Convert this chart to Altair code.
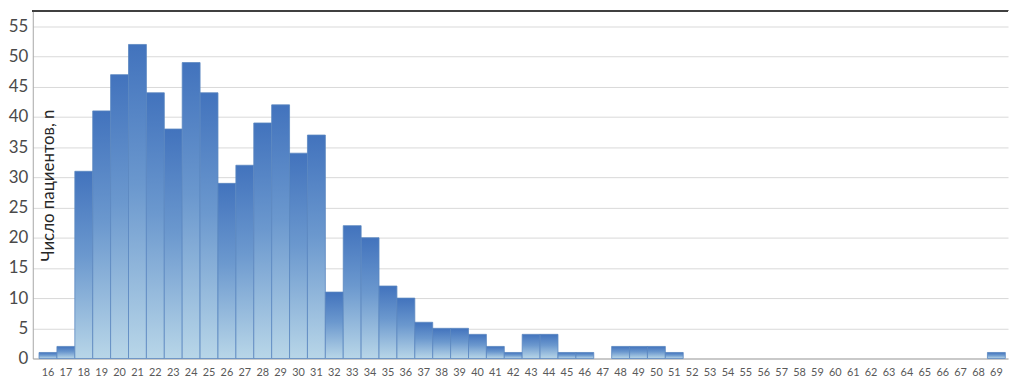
import altair as alt
import pandas as pd

ages = list(range(16, 70))
counts = [1, 2, 31, 41, 47, 52, 44, 38, 49, 44,
          29, 32, 39, 42, 34, 37, 11, 22, 20, 12,
          10, 6, 5, 5, 4, 2, 1, 4, 4, 1,
          1, 0, 2, 2, 2, 1,
          0, 0, 0, 0, 0, 0, 0, 0, 0, 0, 0, 0, 0, 0, 0, 0, 0,
          1]
y_ticks = [0, 5, 10, 15, 20, 25, 30, 35, 40, 45, 50, 55]
y_title = "Число пациентов, n"

df = pd.DataFrame({"age": ages, "n": counts})

W = 984
H = 351
FONT = "Lato"

grad = alt.Gradient(
    gradient="linear",
    stops=[
        alt.GradientStop(color="#4273bd", offset=0),
        alt.GradientStop(color="#6b98ce", offset=0.45),
        alt.GradientStop(color="#b8d6e8", offset=1),
    ],
    x1=0, x2=0, y1=0, y2=1,
)

x_enc = alt.X(
    "age:O",
    scale=alt.Scale(domain=ages, paddingInner=0, paddingOuter=0.25, align=0.7),
    axis=alt.Axis(
        title=None, labelAngle=0, labelFont=FONT, labelFontSize=11,
        labelColor="#595959", labelPadding=8, ticks=False,
        domainColor="#a6a6a6", labelOverlap=False,
    ),
)

bars = alt.Chart(df).transform_filter("datum.n > 0").mark_bar(
    color=grad, stroke="#5a86c0", strokeWidth=0.8
).encode(
    x=x_enc,
    y=alt.Y(
        "n:Q",
        scale=alt.Scale(domain=[0, 57.6], nice=False),
        axis=alt.Axis(
            values=y_ticks, title=y_title, titleAngle=270, titleX=16, titleY=176,
            titleAlign="center", titleBaseline="middle", titleFont=FONT,
            titleFontSize=17, titleFontWeight="normal", titleColor="#262626",
            labelFont=FONT, labelFontSize=17, labelColor="#4a4a4a",
            labelPadding=5, ticks=False, domainColor="#a6a6a6",
            gridColor="#d9d9d9", gridWidth=1,
        ),
    ),
)

top_line = alt.Chart(df).mark_rule(color="#404040", strokeWidth=1.5).encode(
    y=alt.value(0), x=alt.value(0), x2=alt.value(W)
)

chart = alt.layer(bars, top_line).properties(
    width=W, height=H, padding={"left": 0, "top": 0, "right": 0, "bottom": 0}
).configure_view(stroke=None)

chart.save("out.html", embed_options={"renderer": "svg", "actions": False})
